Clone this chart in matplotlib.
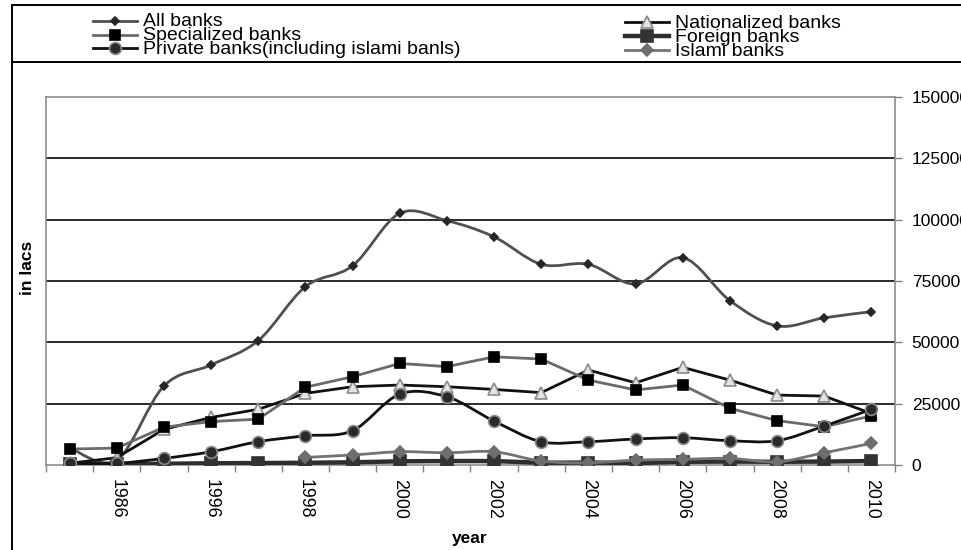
"""
Bank-wise series (in lacs), 6 bank groups, Excel-style line chart
"""

import numpy as np
import matplotlib.pyplot as plt
from matplotlib.path import Path
from matplotlib.patches import PathPatch, Rectangle
from matplotlib.lines import Line2D

plt.rcParams['font.family'] = ['Liberation Sans', 'DejaVu Sans']

# x categories (only every second one carries a label)
year_labels = ['', '1986', '', '1996', '', '1998', '', '2000', '', '2002',
               '', '2004', '', '2006', '', '2008', '', '2010']

all_banks = [7000, 2000, 32200, 40800, 50700, 72700, 81200, 102600, 99600,
             93000, 81800, 81800, 73800, 84500, 67000, 56700, 60000, 62500]
nationalized = [700, 3000, 14500, 19400, 22700, 29200, 31900, 32600, 31900,
                30800, 29500, 38700, 33500, 39800, 34600, 28500, 28100, 21000]
specialized = [6500, 6900, 15400, 17700, 18700, 31700, 36000, 41400, 40100,
               44100, 43200, 34600, 30600, 32600, 23100, 18100, 15600, 20000]
foreign = [300, 400, 500, 700, 800, 900, 1100, 1500, 1600,
           1600, 900, 1000, 800, 1300, 1400, 1300, 1400, 1600]
private = [700, 700, 2700, 5400, 9500, 11900, 14000, 28900, 27800,
           17900, 9500, 9500, 10600, 11100, 9900, 9900, 15900, 22700]
islami = [np.nan, np.nan, np.nan, np.nan, np.nan, 3100, 4100, 5400, 5000,
          5400, 1600, 900, 2000, 2300, 2700, 1300, 5000, 8800]

series_names = ['All banks', 'Nationalized banks', 'Specialized banks',
                'Foreign banks', 'Private banks(including islami banls)',
                'Islami banks']

# line colour, width, marker, marker size, face, edge, smoothed
styles = [
    dict(color='#505050', lw=2.0, marker='D', ms=4.5, mfc='#262626', mec='#262626', smooth=True),
    dict(color='#111111', lw=2.0, marker='^', ms=8, mfc='#e4e4e4', mec='#8a8a8a', smooth=False),
    dict(color='#6a6a6a', lw=2.0, marker='s', ms=7, mfc='#000000', mec='#000000', smooth=False),
    dict(color='#2e2e2e', lw=3.2, marker='s', ms=8.5, mfc='#333333', mec='#333333', smooth=False),
    dict(color='#111111', lw=2.0, marker='o', ms=8.5, mfc='#2a2a2a', mec='#8a8a8a', smooth=True),
    dict(color='#737373', lw=2.0, marker='D', ms=6, mfc='#6e6e6e', mec='#6e6e6e', smooth=True),
]

W, H = 962, 550


def fx(px):
    return px / W


def fy(py):
    return 1 - py / H


def smooth_path(x, y):
    # Catmull-Rom segments as cubic Beziers (Excel "smoothed line")
    pts = np.column_stack([x, y])
    verts = [pts[0]]
    codes = [Path.MOVETO]
    n = len(pts)
    for i in range(n - 1):
        p0 = pts[i - 1] if i > 0 else pts[i]
        p1, p2 = pts[i], pts[i + 1]
        p3 = pts[i + 2] if i + 2 < n else pts[i + 1]
        c1 = p1 + (p2 - p0) / 6.0
        c2 = p2 - (p3 - p1) / 6.0
        verts += [c1, c2, p2]
        codes += [Path.CURVE4] * 3
    return Path(verts, codes)


fig = plt.figure(figsize=(W / 100, H / 100), dpi=100)
fig.patch.set_facecolor('white')

ax = fig.add_axes([fx(46), fy(465), (895 - 46) / W, (465 - 97) / H])

x = np.arange(len(year_labels))
data = [all_banks, nationalized, specialized, foreign, private, islami]

for k, (vals, st) in enumerate(zip(data, styles)):
    vals = np.asarray(vals, dtype=float)
    ok = ~np.isnan(vals)
    xs, ys = x[ok], vals[ok]
    z = 3 + k
    if st['smooth']:
        ax.add_patch(PathPatch(smooth_path(xs, ys), fill=False, edgecolor=st['color'],
                               lw=st['lw'], zorder=z, capstyle='round', joinstyle='round'))
    else:
        ax.plot(xs, ys, color=st['color'], lw=st['lw'], zorder=z, solid_joinstyle='round')
    ax.plot(xs, ys, linestyle='none', marker=st['marker'], ms=st['ms'],
            mfc=st['mfc'], mec=st['mec'], mew=1.2, zorder=z + 0.5)

# axes, ticks, gridlines
ax.set_xlim(-0.5, len(year_labels) - 0.5)
ax.set_ylim(0, 150000)
yticks = np.arange(0, 150001, 25000)
ax.set_yticks(yticks)
ax.set_yticklabels([str(v) for v in yticks], fontsize=12.5)
ax.yaxis.tick_right()
ax.tick_params(axis='y', direction='out', length=5, width=1, color='#808080', pad=7)
for v in yticks[1:-1]:
    ax.axhline(v, color='#1a1a1a', lw=1.3, zorder=1)

ax.set_xticks(x)
ax.set_xticklabels(year_labels, rotation=-90, fontsize=12.8, va='top', ha='center')
ax.set_xticks(np.arange(-0.5, len(year_labels)), minor=True)
ax.tick_params(axis='x', which='major', length=0, pad=10)
ax.tick_params(axis='x', which='minor', direction='out', length=5, width=1, color='#808080')

for s in ax.spines.values():
    s.set_color('#8c8c8c')
    s.set_linewidth(1.2)

fig.text(fx(470), fy(538), 'year', fontsize=12.5, fontweight='bold', ha='center', va='center')
fig.text(fx(27), fy(268), 'in lacs', fontsize=12.5, fontweight='bold', rotation=90,
         ha='center', va='center')

# outer frame and legend box
frame_kw = dict(color='black', lw=1.4, transform=fig.transFigure)
fig.add_artist(Line2D([fx(11.5), fx(11.5)], [fy(5), fy(550)], **frame_kw))
fig.add_artist(Line2D([fx(11.5), 1], [fy(5), fy(5)], **frame_kw))
fig.add_artist(Line2D([fx(11.5), 1], [fy(62), fy(62)], **frame_kw))

legend_clip = Rectangle((fx(12), fy(62)), 1, fy(5) - fy(62), transform=fig.transFigure)
slots = [(93, 21), (625, 22), (93, 34.5), (625, 36), (93, 48), (625, 50)]
for name, st, (hx, hy) in zip(series_names, styles, slots):
    fig.add_artist(Line2D([fx(hx), fx(hx + 44)], [fy(hy), fy(hy)], color=st['color'],
                          lw=st['lw'], transform=fig.transFigure))
    fig.add_artist(Line2D([fx(hx + 22)], [fy(hy)], marker=st['marker'], ms=st['ms'],
                          mfc=st['mfc'], mec=st['mec'], mew=1.2, transform=fig.transFigure))
    t = fig.text(fx(hx + 50), fy(hy + 1), name, fontsize=14, ha='left', va='center')
    t.set_clip_path(legend_clip)
    t.set_clip_on(True)

fig.savefig('out.png', dpi=100)
